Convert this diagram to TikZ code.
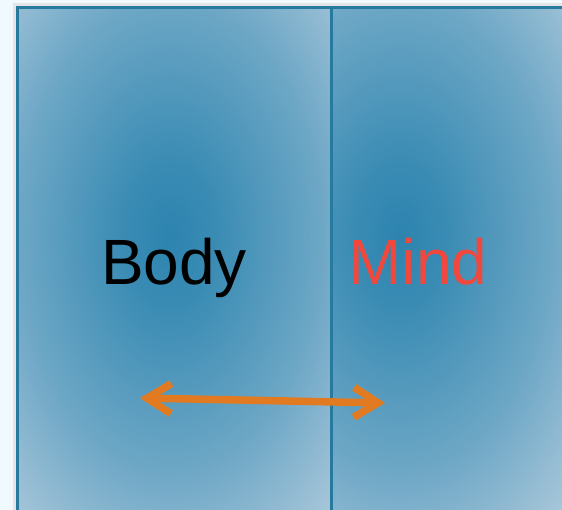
\documentclass[tikz,border=0pt]{standalone}
\usepackage{fontspec}
\setmainfont{Liberation Sans}
\usetikzlibrary{arrows.meta}
\definecolor{paneledge}{RGB}{38,122,158}
\definecolor{paneldark}{RGB}{44,132,175}
\definecolor{panellight}{RGB}{180,205,222}
\definecolor{mindred}{RGB}{240,72,60}
\definecolor{arrorange}{RGB}{226,122,34}
\pgfdeclareradialshading{panelglow}{\pgfpoint{0bp}{0bp}}{%
  color(0bp)=(paneldark); color(6bp)=(paneldark!90!panellight);
  color(20bp)=(paneldark!52!panellight); color(34bp)=(panellight);
  color(50bp)=(panellight)}
\begin{document}
\begin{tikzpicture}[
  x=1pt, y=-1pt,
  frame/.style={draw=paneledge, line width=3pt},
  word/.style={font=\fontsize{64}{64}\selectfont, inner sep=0pt, anchor=base},
  arr/.style={{Straight Barb[length=24pt, width=30pt, line width=7.5pt]}-{Straight Barb[length=24pt, width=30pt, line width=7.5pt]},
              line width=7.5pt, line cap=round, arrorange}
]
  \useasboundingbox (0,0) rectangle (562,510);
  \fill[white!94!cyan] (0,0) rectangle (562,510);
  \clip (0,0) rectangle (562,510);
  %% --- soft shadow behind the panels ---
  \fill[black!10] (13,3) rectangle (580,530);
  %% --- Panels ---
  \begin{scope}
    \clip (17,8) rectangle (331,540);
    \shade[shading=panelglow] (-20,-60) rectangle (360,530);
  \end{scope}
  \begin{scope}
    \clip (331,8) rectangle (640,540);
    \shade[shading=panelglow] (210,-60) rectangle (590,530);
  \end{scope}
  \draw[frame] (17,8) rectangle (331,540);
  \draw[frame] (331,8) rectangle (640,540);
  %% --- Labels ---
  \node[word] (body) at (174,285) {Body};
  \node[word, text=mindred] (mind) at (418,285) {Mind};
  %% --- Relationship ---
  \coordinate (arrL) at (140,398);
  \coordinate (arrR) at (385,403);
  \draw[arr] (arrL) -- (arrR);
\end{tikzpicture}
\end{document}
